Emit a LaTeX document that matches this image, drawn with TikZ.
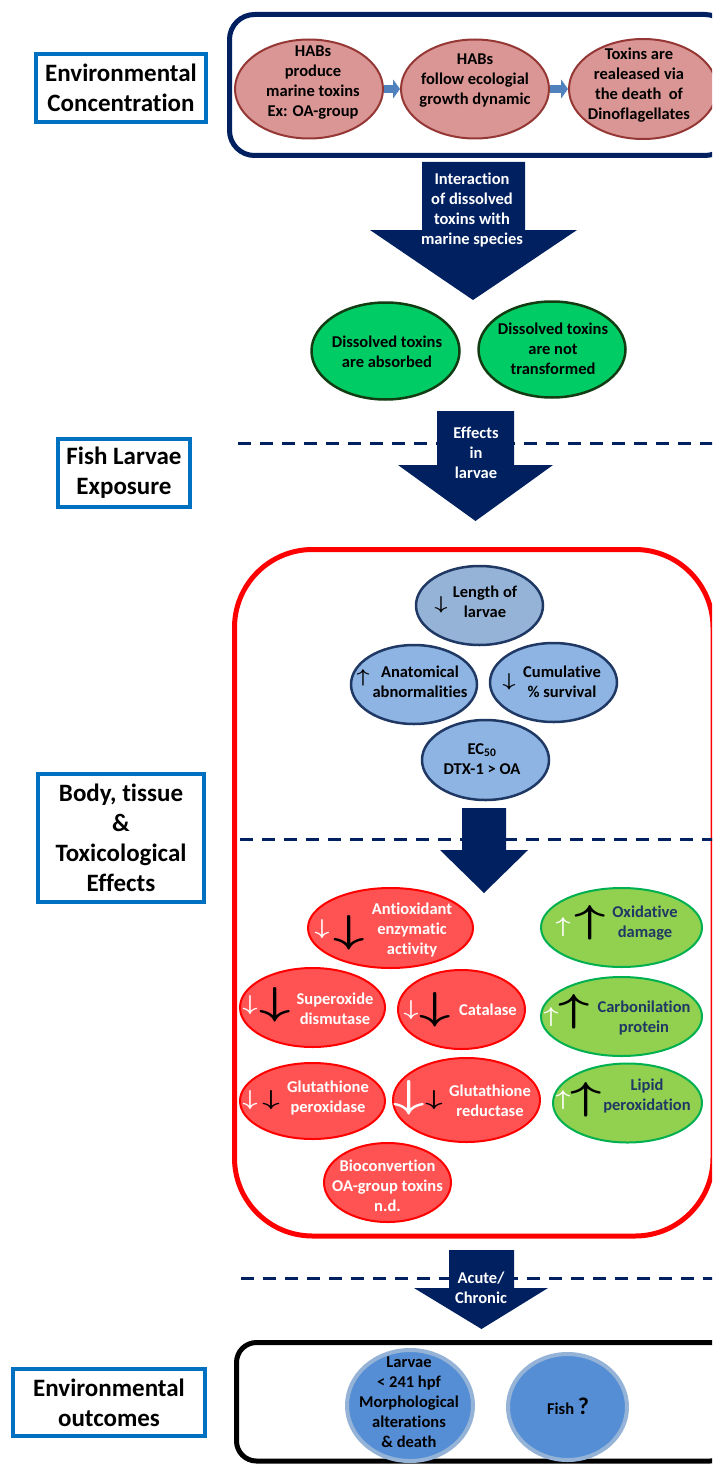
\documentclass[tikz,border=0pt]{standalone}
\usepackage{fontspec}
\setmainfont{Carlito}[Ligatures=NoCommon]
\usepackage{tikz}
\usetikzlibrary{shapes.geometric,arrows.meta}

\definecolor{navy}{HTML}{002060}
\definecolor{lblblue}{HTML}{0070C0}
\definecolor{pinkfill}{HTML}{D99694}
\definecolor{pinkline}{HTML}{953735}
\definecolor{stepblue}{HTML}{4F81BD}
\definecolor{mintfill}{HTML}{00CC66}
\definecolor{mintline}{HTML}{123D12}
\definecolor{lenfill}{HTML}{95B3D7}
\definecolor{effill}{HTML}{8DB4E2}
\definecolor{effline}{HTML}{1F3864}
\definecolor{redfill}{HTML}{FF5353}
\definecolor{limefill}{HTML}{92D050}
\definecolor{limeline}{HTML}{00B050}
\definecolor{outfill}{HTML}{558ED5}
\definecolor{outring}{HTML}{95B3D7}

\newcommand{\dnar}[1]{\scalebox{1.2}[1]{\resizebox{!}{#1}{\boldmath$\downarrow$}}}
\newcommand{\upar}[1]{\scalebox{1.2}[1]{\resizebox{!}{#1}{\boldmath$\uparrow$}}}
\newcommand{\Dnar}[1]{\scalebox{1.4}[1]{\resizebox{!}{#1}{\boldmath$\downarrow$}}}
\newcommand{\Upar}[1]{\scalebox{1.4}[1]{\resizebox{!}{#1}{\boldmath$\uparrow$}}}

\begin{document}
\begin{tikzpicture}[x=1pt, y=-1pt,
    every node/.style={font=\fontsize{16.5}{20}\selectfont\bfseries},
    lbl/.style={draw=lblblue, line width=4pt, fill=white, align=center, inner sep=0pt,
        font=\fontsize{25}{30}\selectfont\bfseries},
    ell/.style={ellipse, inner sep=0pt},
    pinkell/.style={ell, draw=pinkline, fill=pinkfill, line width=2pt},
    mintell/.style={ell, draw=mintline, fill=mintfill, line width=2.5pt},
    lenell/.style={ell, draw=effline, fill=lenfill, line width=2.5pt},
    effell/.style={ell, draw=effline, fill=effill, line width=2.5pt},
    redell/.style={ell, draw=red, fill=redfill, line width=2pt},
    limeell/.style={ell, draw=limeline, fill=limefill, line width=2pt},
    outell/.style={ell, draw=outring, fill=outfill, line width=4pt},
    txt/.style={align=center, inner sep=0pt},
    wtxt/.style={txt, text=white},
    ntxt/.style={txt, text=effline},
    sym/.style={inner sep=0pt},
    steparrow/.style={draw=stepblue, line width=8pt, -{Triangle[length=7pt, width=19pt]}},
    sep/.style={navy, line width=3pt, dash pattern=on 13pt off 9pt}]

    \useasboundingbox (0,0) rectangle (712,1466);
    \clip (0,0) rectangle (712,1466);

    % Frames
    \draw[navy, line width=5pt, rounded corners=25pt] (229.5,14.5) rectangle (730,155.5);
    \draw[red, line width=5pt, rounded corners=78pt] (234.5,549.5) rectangle (713,1236);
    \draw[black, line width=5pt, rounded corners=20pt] (236.5,1342.5) rectangle (730,1461);

    % Dashed separators
    \draw[sep] (238,443) -- (730,443);
    \draw[sep] (240,839) -- (730,839);
    \draw[sep] (241,1278) -- (730,1278);

    % Big arrows
    \fill[navy] (422,162) -- (525,162) -- (525,230) -- (577,230) -- (473,300) -- (370,230) -- (422,230) -- cycle;
    \fill[navy] (437,411) -- (514,411) -- (514,465) -- (553,465) -- (475.5,521) -- (398,465) -- (437,465) -- cycle;
    \fill[navy] (462,808) -- (506,808) -- (506,850) -- (528,850) -- (484,893) -- (440,850) -- (462,850) -- cycle;
    \fill[navy] (449,1250) -- (514,1250) -- (514,1288) -- (548,1288) -- (481.5,1329) -- (414,1288) -- (449,1288) -- cycle;
    \node[wtxt] (inter) at (472,210) {Interaction\\of dissolved\\toxins with\\marine species};
    \node[wtxt] (efl) at (476,453) {Effects\\in\\larvae};
    \node[wtxt] (acu) at (481,1288) {Acute/\\Chronic};

    % Left labels
    \node[lbl, minimum width=170pt, minimum height=68pt] (envc) at (121,88) {Environmental\\Concentration};
    \node[lbl, minimum width=132pt, minimum height=68pt] (fle) at (124,473) {Fish Larvae\\Exposure};
    \node[lbl, minimum width=166pt, minimum height=128pt] (bte) at (121,838) {Body, tissue\\\&\\Toxicological\\Effects};
    \node[lbl, minimum width=192pt, minimum height=67pt] (envo) at (109,1402.5) {Environmental\\outcomes};

    % HABs
    \node[pinkell, minimum width=148pt, minimum height=99pt] (hab1) at (309,89) {};
    \node[pinkell, minimum width=148pt, minimum height=99pt] (hab2) at (475,89) {};
    \node[pinkell, minimum width=148pt, minimum height=100pt] (hab3) at (643,89) {};
    \node[txt] (hab1t) at (313,83) {HABs\\produce\\marine toxins\\Ex: OA-group};
    \node[txt] (hab2t) at (475,81) {HABs\\follow ecologial\\growth dynamic};
    \node[txt] (hab3t) at (639,85.5) {Toxins are\\realeased via\\the death~ of\\Dinoflagellates};
    \draw[steparrow] (hab1.east) -- (hab2.west);
    \draw[steparrow] (hab2.east) -- (hab3.west);

    % Dissolved toxins
    \node[mintell, minimum width=148pt, minimum height=97pt] (abs) at (385.5,351) {};
    \node[mintell, minimum width=147pt, minimum height=96pt] (ntr) at (552,349.5) {};
    \node[txt] (abst) at (387,351.5) {Dissolved toxins\\are absorbed};
    \node[txt] (ntrt) at (553,349) {Dissolved toxins\\are not\\transformed};

    % Larvae effects
    \node[lenell, minimum width=127pt, minimum height=79pt] (len) at (479.5,605.5) {};
    \node[effell, minimum width=126pt, minimum height=79pt] (ana) at (414,684.5) {};
    \node[effell, minimum width=127pt, minimum height=79pt] (cum) at (553.5,682.5) {};
    \node[effell, minimum width=127pt, minimum height=80pt] (ec) at (485.5,760) {};
    \node[txt] (lent) at (485,602) {Length of\\larvae};
    \node[txt] (anat) at (420,682) {Anatomical\\abnormalities};
    \node[txt] (cumt) at (562,682) {Cumulative\\\% survival};
    \node[txt] (ect) at (482,759) {EC\textsubscript{50}\\DTX-1 > OA};
    \node[sym] (lena) at (441,605) {\dnar{13pt}};
    \node[sym] (anaa) at (363,678) {\upar{13pt}};
    \node[sym] (cuma) at (509,682) {\dnar{13pt}};

    % Enzymes
    \node[redell, minimum width=165pt, minimum height=80pt] (aox) at (390.5,928) {};
    \node[redell, minimum width=145pt, minimum height=79pt] (sod) at (312.5,1007.5) {};
    \node[redell, minimum width=127pt, minimum height=79pt] (cat) at (461.5,1009.5) {};
    \node[redell, minimum width=145pt, minimum height=76pt] (gpx) at (312.5,1101) {};
    \node[redell, minimum width=147pt, minimum height=84pt] (gr) at (466.5,1100) {};
    \node[redell, minimum width=127pt, minimum height=79pt] (bio) at (387.5,1182.5) {};
    \node[wtxt] (aoxt) at (412,930) {Antioxidant\\enzymatic\\activity};
    \node[wtxt] (sodt) at (335,1009) {Superoxide\\dismutase};
    \node[wtxt] (catt) at (488,1010) {Catalase};
    \node[wtxt] (gpxt) at (328,1098) {Glutathione\\peroxidase};
    \node[wtxt] (grt) at (490,1101) {Glutathione\\reductase};
    \node[wtxt] (biot) at (387.5,1186) {Bioconvertion\\OA-group toxins\\n.d.};
    \node[sym, text=white] (aoxa) at (322,929) {\dnar{15pt}};
    \node[sym] (aoxb) at (349,933) {\Dnar{27pt}};
    \node[sym, text=white] (soda) at (250,1005) {\dnar{15pt}};
    \node[sym] (sodb) at (275,1005) {\Dnar{27pt}};
    \node[sym, text=white] (cata) at (411,1010) {\dnar{15pt}};
    \node[sym] (catb) at (435,1010) {\Dnar{27pt}};
    \node[sym, text=white] (gpxa) at (250,1100) {\dnar{15pt}};
    \node[sym] (gpxb) at (271,1100) {\Dnar{15pt}};
    \node[sym, text=white] (gra) at (409,1098) {\Dnar{27pt}};
    \node[sym] (grb) at (434,1100) {\Dnar{15pt}};

    % Damage
    \node[limeell, minimum width=161pt, minimum height=79pt] (oxd) at (621.5,927.5) {};
    \node[limeell, minimum width=161pt, minimum height=79pt] (carb) at (621.5,1016.5) {};
    \node[limeell, minimum width=149pt, minimum height=79pt] (lip) at (627.5,1103) {};
    \node[ntxt] (oxdt) at (645,923) {Oxidative\\damage};
    \node[ntxt] (carbt) at (644,1018) {Carbonilation\\protein};
    \node[ntxt] (lipt) at (647,1096) {Lipid\\peroxidation};
    \node[sym, text=white] (oxda) at (563,927) {\upar{15pt}};
    \node[sym] (oxdb) at (590,923) {\Upar{27pt}};
    \node[sym, text=white] (carba) at (551,1017) {\upar{15pt}};
    \node[sym] (carbb) at (574,1012) {\Upar{27pt}};
    \node[sym, text=white] (lipa) at (563,1100) {\upar{15pt}};
    \node[sym] (lipb) at (586,1100) {\Upar{27pt}};

    % Outcomes
    \node[outell, minimum width=126pt, minimum height=111pt] (lar) at (410,1405.5) {};
    \node[outell, minimum width=119pt, minimum height=106pt] (fish) at (567.5,1407) {};
    \node[txt] (lart) at (409,1402) {Larvae\\< 241 hpf\\Morphological\\alterations\\\& death};
    \node[txt] (fisht) at (568,1406) {Fish {\fontsize{24}{24}\selectfont ?}};
\end{tikzpicture}
\end{document}
